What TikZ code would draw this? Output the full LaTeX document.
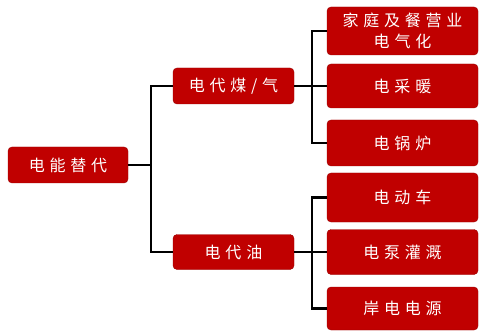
\documentclass[tikz,border=0pt]{standalone}
\usepackage{fontspec}
\newfontfamily\cjk[LetterSpace=30]{Noto Sans CJK SC}
\definecolor{boxred}{HTML}{C00000}
\begin{document}
\begin{tikzpicture}[x=1pt,y=-1pt,
  box/.style={fill=boxred,draw=boxred!80!black,line width=0.4pt,rounded corners=4pt,text=white,
    font=\cjk\fontsize{16}{21}\selectfont,align=center,inner sep=0pt},
  conn/.style={draw=black,line width=2.2pt}]
\useasboundingbox (0,0) rectangle (479,331);
\node[box,minimum width=120,minimum height=36] (root) at (68,165) {电能替代};
\node[box,minimum width=121,minimum height=36] (coal) at (233.5,86) {电代煤/气};
\node[box,minimum width=121,minimum height=35] (oil) at (233.5,252) {电代油};
\node[box,minimum width=151,minimum height=48] (r1) at (402.5,31) {家庭及餐营业\\电气化};
\node[box,minimum width=151,minimum height=44] (r2) at (402.5,86) {电采暖};
\node[box,minimum width=151,minimum height=46] (r3) at (402.5,143) {电锅炉};
\node[box,minimum width=151,minimum height=49] (r4) at (402.5,197.5) {电动车};
\node[box,minimum width=151,minimum height=45] (r5) at (402.5,252) {电泵灌溉};
\node[box,minimum width=151,minimum height=43] (r6) at (402.5,308.5) {岸电电源};
\coordinate (j0) at (151,165);
\coordinate (j1) at (312,86);
\coordinate (j2) at (312,252);
\draw[conn] (root.east) -- (j0);
\draw[conn] (coal.west) -| (j0) |- (oil.west);
\draw[conn] (coal.east) -- (j1);
\draw[conn] (r1.west) -| (j1) |- (r3.west);
\draw[conn] (j1) -- (r2.west);
\draw[conn] (oil.east) -- (j2);
\draw[conn] (r4.west) -| (j2) |- (r6.west);
\draw[conn] (j2) -- (r5.west);
\end{tikzpicture}
\end{document}
